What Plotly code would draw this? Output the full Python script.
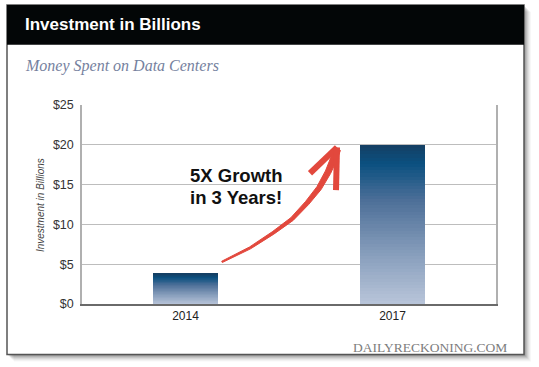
import numpy as np
import plotly.graph_objects as go

# ---- data ----
years = ["2014", "2017"]
investment = [3.8, 20.0]
y_ticks = [0, 5, 10, 15, 20, 25]
y_tick_labels = ["$0", "$5", "$10", "$15", "$20", "$25"]
title_text = "Investment in Billions"
subtitle_text = "Money Spent on Data Centers"
axis_title = "Investment in Billions"
callout = ["5X Growth", "in 3 Years!"]
footer = "DAILYRECKONING.COM"

W, H = 539, 367
L, R, T, B = 82, 496, 104.5, 304.3


def px(x):
    return (x - L) / (R - L)


def py(y):
    return (B - y) / (B - T)


# gradient colour stops (bottom -> top)
stops = [(0.0, (185, 197, 218)), (0.35, (129, 153, 184)), (0.65, (77, 111, 152)),
         (0.88, (10, 80, 128)), (1.0, (21, 63, 99))]


def grad(t):
    for (t0, c0), (t1, c1) in zip(stops[:-1], stops[1:]):
        if t <= t1:
            f = (t - t0) / (t1 - t0)
            c = [round(a + (b - a) * f) for a, b in zip(c0, c1)]
            return "rgb(%d,%d,%d)" % tuple(c)
    return "rgb(%d,%d,%d)" % stops[-1][1]


N = 50
fig = go.Figure()
for k in range(N):
    col = grad((k + 0.5) / N)
    fig.add_trace(go.Bar(
        x=years, y=[v / N for v in investment],
        marker=dict(color=col, line=dict(width=0)),
        hoverinfo="skip", showlegend=False,
    ))

shapes = []
# card shadow
for i, op in enumerate([0.10, 0.10, 0.09, 0.07, 0.05, 0.04, 0.03]):
    o = i + 1
    shapes.append(dict(type="rect", xref="paper", yref="paper", layer="below",
                       x0=px(7 + o), x1=px(524 + o), y0=py(4 + o), y1=py(355 + o),
                       fillcolor="rgba(0,0,0,%.2f)" % op, line=dict(width=0)))
# card
shapes.append(dict(type="rect", xref="paper", yref="paper", layer="below",
                   x0=px(7), x1=px(524), y0=py(4), y1=py(355),
                   fillcolor="white", line=dict(color="#555555", width=1.5)))
# title bar
shapes.append(dict(type="rect", xref="paper", yref="paper", layer="below",
                   x0=px(7), x1=px(524), y0=py(4), y1=py(44),
                   fillcolor="#030607", line=dict(width=0)))

# arrow (tapered body)
cx = np.array([222, 250, 273, 292, 307, 319, 328, 334, 337], dtype=float)
cy = np.array([262, 248, 233, 219, 203, 188, 172, 158, 149], dtype=float)
hw = np.linspace(0.7, 3.6, len(cx))
dx = np.gradient(cx)
dy = np.gradient(cy)
nl = np.hypot(dx, dy)
nx, ny = -dy / nl, dx / nl
up = [(cx[i] + nx[i] * hw[i], cy[i] + ny[i] * hw[i]) for i in range(len(cx))]
lo = [(cx[i] - nx[i] * hw[i], cy[i] - ny[i] * hw[i]) for i in range(len(cx))][::-1]
pts = up + lo
path = "M " + " L ".join("%.5f,%.5f" % (px(a), py(b)) for a, b in pts) + " Z"
red = "#e2483d"
shapes.append(dict(type="path", xref="paper", yref="paper", path=path,
                   fillcolor=red, line=dict(color=red, width=1)))
for (a, b) in [((310, 173), (337, 147)), ((337, 147), (336, 190))]:
    shapes.append(dict(type="line", xref="paper", yref="paper",
                       x0=px(a[0]), y0=py(a[1]), x1=px(b[0]), y1=py(b[1]),
                       line=dict(color=red, width=6)))

ann = [
    dict(text="<b>%s</b>" % title_text, x=px(23), y=py(24), xanchor="left", yanchor="middle",
         font=dict(family="Liberation Sans, Arial", size=17, color="white")),
    dict(text="<i>%s</i>" % subtitle_text, x=px(23), y=py(65), xanchor="left", yanchor="middle",
         font=dict(family="Liberation Serif, Times New Roman", size=16, color="#75819e")),
    dict(text="<i>%s</i>" % axis_title, x=px(40), y=py(205), xanchor="center", yanchor="middle",
         textangle=-90, font=dict(family="Liberation Sans, Arial", size=10, color="#444444")),
    dict(text="<b>%s</b>" % callout[0], x=px(188), y=py(175), xanchor="left", yanchor="middle",
         font=dict(family="Liberation Sans, Arial", size=18.5, color="#111111")),
    dict(text="<b>%s</b>" % callout[1], x=px(188), y=py(197), xanchor="left", yanchor="middle",
         font=dict(family="Liberation Sans, Arial", size=18.5, color="#111111")),
    dict(text=footer, x=px(509), y=py(348), xanchor="right", yanchor="middle",
         font=dict(family="Liberation Serif, Times New Roman", size=13.5, color="#7d7d7d")),
]
for a in ann:
    a.update(xref="paper", yref="paper", showarrow=False)

fig.update_layout(
    width=W, height=H,
    margin=dict(l=L, r=W - R, t=T, b=H - B, pad=0),
    paper_bgcolor="white", plot_bgcolor="rgba(0,0,0,0)",
    barmode="stack", bargap=0.685,
    shapes=shapes, annotations=ann,
    showlegend=False,
    xaxis=dict(type="category", showgrid=False, showline=True, linecolor="#6a6a6a",
               linewidth=1.5, ticks="", ticklen=0, ticklabelstandoff=0,
               tickfont=dict(family="Liberation Sans, Arial", size=12, color="#222222"),
               fixedrange=True),
    yaxis=dict(range=[0, 25], tickvals=y_ticks, ticktext=y_tick_labels,
               showgrid=True, gridcolor="#bdbdbd", gridwidth=1, zeroline=False,
               showline=True, mirror=True, linecolor="#b0b0b0", linewidth=1.5,
               ticks="", ticklabelstandoff=4,
               tickfont=dict(family="Liberation Sans, Arial", size=12.5, color="#333333"),
               fixedrange=True),
)
fig.write_html("out.html", config=dict(displayModeBar=False),
               post_script="document.body.style.margin='0';document.body.style.overflow='hidden';")
